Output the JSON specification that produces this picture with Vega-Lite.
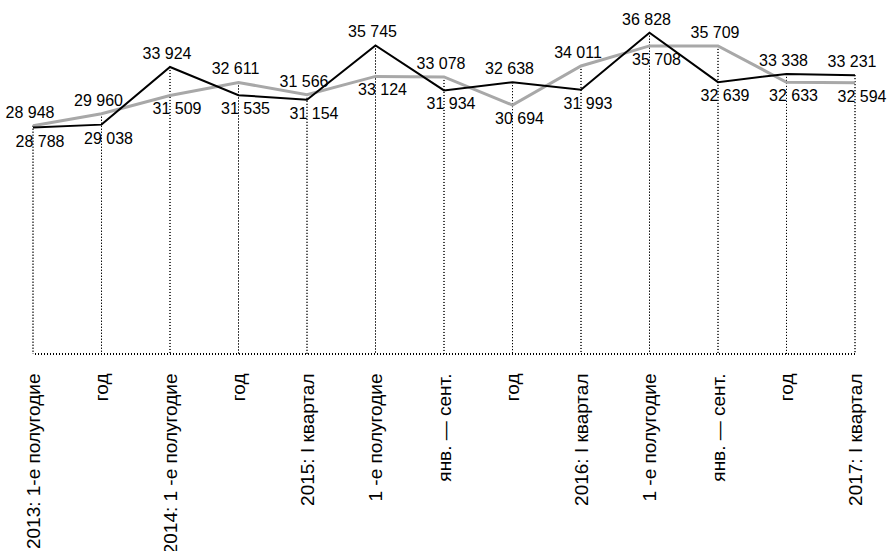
{
  "$schema": "https://vega.github.io/schema/vega-lite/v6.json",
  "width": 822,
  "height": 354,
  "autosize": "none",
  "padding": {"left": 33, "top": 0, "right": 36, "bottom": 197},
  "config": {
    "view": {"stroke": null},
    "font": "Liberation Sans, Arial, sans-serif",
    "locale": {"number": {"decimal": ",", "thousands": " ", "grouping": [3], "currency": ["", ""]}}
  },
  "data": {
    "values": [
      {"year": "2013", "label": "2013:  1-е полугодие", "series": "ряд 1", "value": 28788},
      {"year": "2013", "label": "2013:  1-е полугодие", "series": "ряд 2", "value": 28948},
      {"year": "2013", "label": "год", "series": "ряд 1", "value": 29038},
      {"year": "2013", "label": "год", "series": "ряд 2", "value": 29960},
      {"year": "2014", "label": "2014: 1 -е полугодие", "series": "ряд 1", "value": 33924},
      {"year": "2014", "label": "2014: 1 -е полугодие", "series": "ряд 2", "value": 31509},
      {"year": "2014", "label": "год", "series": "ряд 1", "value": 31535},
      {"year": "2014", "label": "год", "series": "ряд 2", "value": 32611},
      {"year": "2015", "label": "2015: I квартал", "series": "ряд 1", "value": 31154},
      {"year": "2015", "label": "2015: I квартал", "series": "ряд 2", "value": 31566},
      {"year": "2015", "label": "1 -е полугодие", "series": "ряд 1", "value": 35745},
      {"year": "2015", "label": "1 -е полугодие", "series": "ряд 2", "value": 33124},
      {"year": "2015", "label": "янв. — сент.", "series": "ряд 1", "value": 31934},
      {"year": "2015", "label": "янв. — сент.", "series": "ряд 2", "value": 33078},
      {"year": "2015", "label": "год", "series": "ряд 1", "value": 32638},
      {"year": "2015", "label": "год", "series": "ряд 2", "value": 30694},
      {"year": "2016", "label": "2016: I квартал", "series": "ряд 1", "value": 31993},
      {"year": "2016", "label": "2016: I квартал", "series": "ряд 2", "value": 34011},
      {"year": "2016", "label": "1 -е полугодие", "series": "ряд 1", "value": 36828},
      {"year": "2016", "label": "1 -е полугодие", "series": "ряд 2", "value": 35708},
      {"year": "2016", "label": "янв. — сент.", "series": "ряд 1", "value": 32639},
      {"year": "2016", "label": "янв. — сент.", "series": "ряд 2", "value": 35709},
      {"year": "2016", "label": "год", "series": "ряд 1", "value": 33338},
      {"year": "2016", "label": "год", "series": "ряд 2", "value": 32633},
      {"year": "2017", "label": "2017: I квартал", "series": "ряд 1", "value": 33231},
      {"year": "2017", "label": "2017: I квартал", "series": "ряд 2", "value": 32594}
    ]
  },
  "transform": [
    {"calculate": "datum.year + '|' + datum.label", "as": "key"},
    {"joinaggregate": [{"op": "max", "field": "value", "as": "maxv"}], "groupby": ["key"]}
  ],
  "layer": [
    {
      "mark": {"type": "rule", "color": "#000000", "strokeWidth": 1, "strokeDash": [1, 2]},
      "encoding": {"y": {"datum": 9600, "type": "quantitative", "scale": {"domain": [9600, 39600], "nice": false, "zero": false}, "axis": null}}
    },
    {
      "mark": {"type": "rule", "color": "#000000", "strokeWidth": 1, "strokeDash": [1, 2]},
      "encoding": {
        "x": {"field": "key", "type": "ordinal", "sort": null, "title": null, "scale": {"type": "point", "padding": 0},
          "axis": {"labelExpr": "split(datum.value, '|')[1]", "labelAngle": -90, "labelAlign": "right", "labelBaseline": "middle", "ticks": false, "domain": false, "grid": false, "labelPadding": 19, "labelFontSize": 19, "labelColor": "#000000", "labelLimit": 0}},
        "y": {"field": "maxv", "type": "quantitative"},
        "y2": {"datum": 9600}
      }
    },
    {
      "transform": [{"filter": "datum.series == 'ряд 2'"}],
      "mark": {"type": "line", "color": "#a8a8a8", "strokeWidth": 3},
      "encoding": {
        "x": {"field": "key", "type": "ordinal", "sort": null, "title": null, "scale": {"type": "point", "padding": 0},
          "axis": {"labelExpr": "split(datum.value, '|')[1]", "labelAngle": -90, "labelAlign": "right", "labelBaseline": "middle", "ticks": false, "domain": false, "grid": false, "labelPadding": 19, "labelFontSize": 19, "labelColor": "#000000", "labelLimit": 0}},
        "y": {"field": "value", "type": "quantitative"}
      }
    },
    {
      "transform": [{"filter": "datum.series == 'ряд 1'"}],
      "mark": {"type": "line", "color": "#000000", "strokeWidth": 2},
      "encoding": {
        "x": {"field": "key", "type": "ordinal", "sort": null, "title": null, "scale": {"type": "point", "padding": 0},
          "axis": {"labelExpr": "split(datum.value, '|')[1]", "labelAngle": -90, "labelAlign": "right", "labelBaseline": "middle", "ticks": false, "domain": false, "grid": false, "labelPadding": 19, "labelFontSize": 19, "labelColor": "#000000", "labelLimit": 0}},
        "y": {"field": "value", "type": "quantitative"}
      }
    },
    {
      "transform": [{"filter": "datum.value == datum.maxv"}],
      "mark": {"type": "text", "fontSize": 16, "color": "#000000", "baseline": "bottom", "dy": -5, "dx": -3},
      "encoding": {
        "x": {"field": "key", "type": "ordinal", "sort": null, "title": null, "scale": {"type": "point", "padding": 0},
          "axis": {"labelExpr": "split(datum.value, '|')[1]", "labelAngle": -90, "labelAlign": "right", "labelBaseline": "middle", "ticks": false, "domain": false, "grid": false, "labelPadding": 19, "labelFontSize": 19, "labelColor": "#000000", "labelLimit": 0}},
        "y": {"field": "value", "type": "quantitative"},
        "text": {"field": "value", "type": "quantitative", "format": ",d"}
      }
    },
    {
      "transform": [{"filter": "datum.value < datum.maxv"}],
      "mark": {"type": "text", "fontSize": 16, "color": "#000000", "baseline": "top", "dy": 6, "dx": 7},
      "encoding": {
        "x": {"field": "key", "type": "ordinal", "sort": null, "title": null, "scale": {"type": "point", "padding": 0},
          "axis": {"labelExpr": "split(datum.value, '|')[1]", "labelAngle": -90, "labelAlign": "right", "labelBaseline": "middle", "ticks": false, "domain": false, "grid": false, "labelPadding": 19, "labelFontSize": 19, "labelColor": "#000000", "labelLimit": 0}},
        "y": {"field": "value", "type": "quantitative"},
        "text": {"field": "value", "type": "quantitative", "format": ",d"}
      }
    }
  ]
}
